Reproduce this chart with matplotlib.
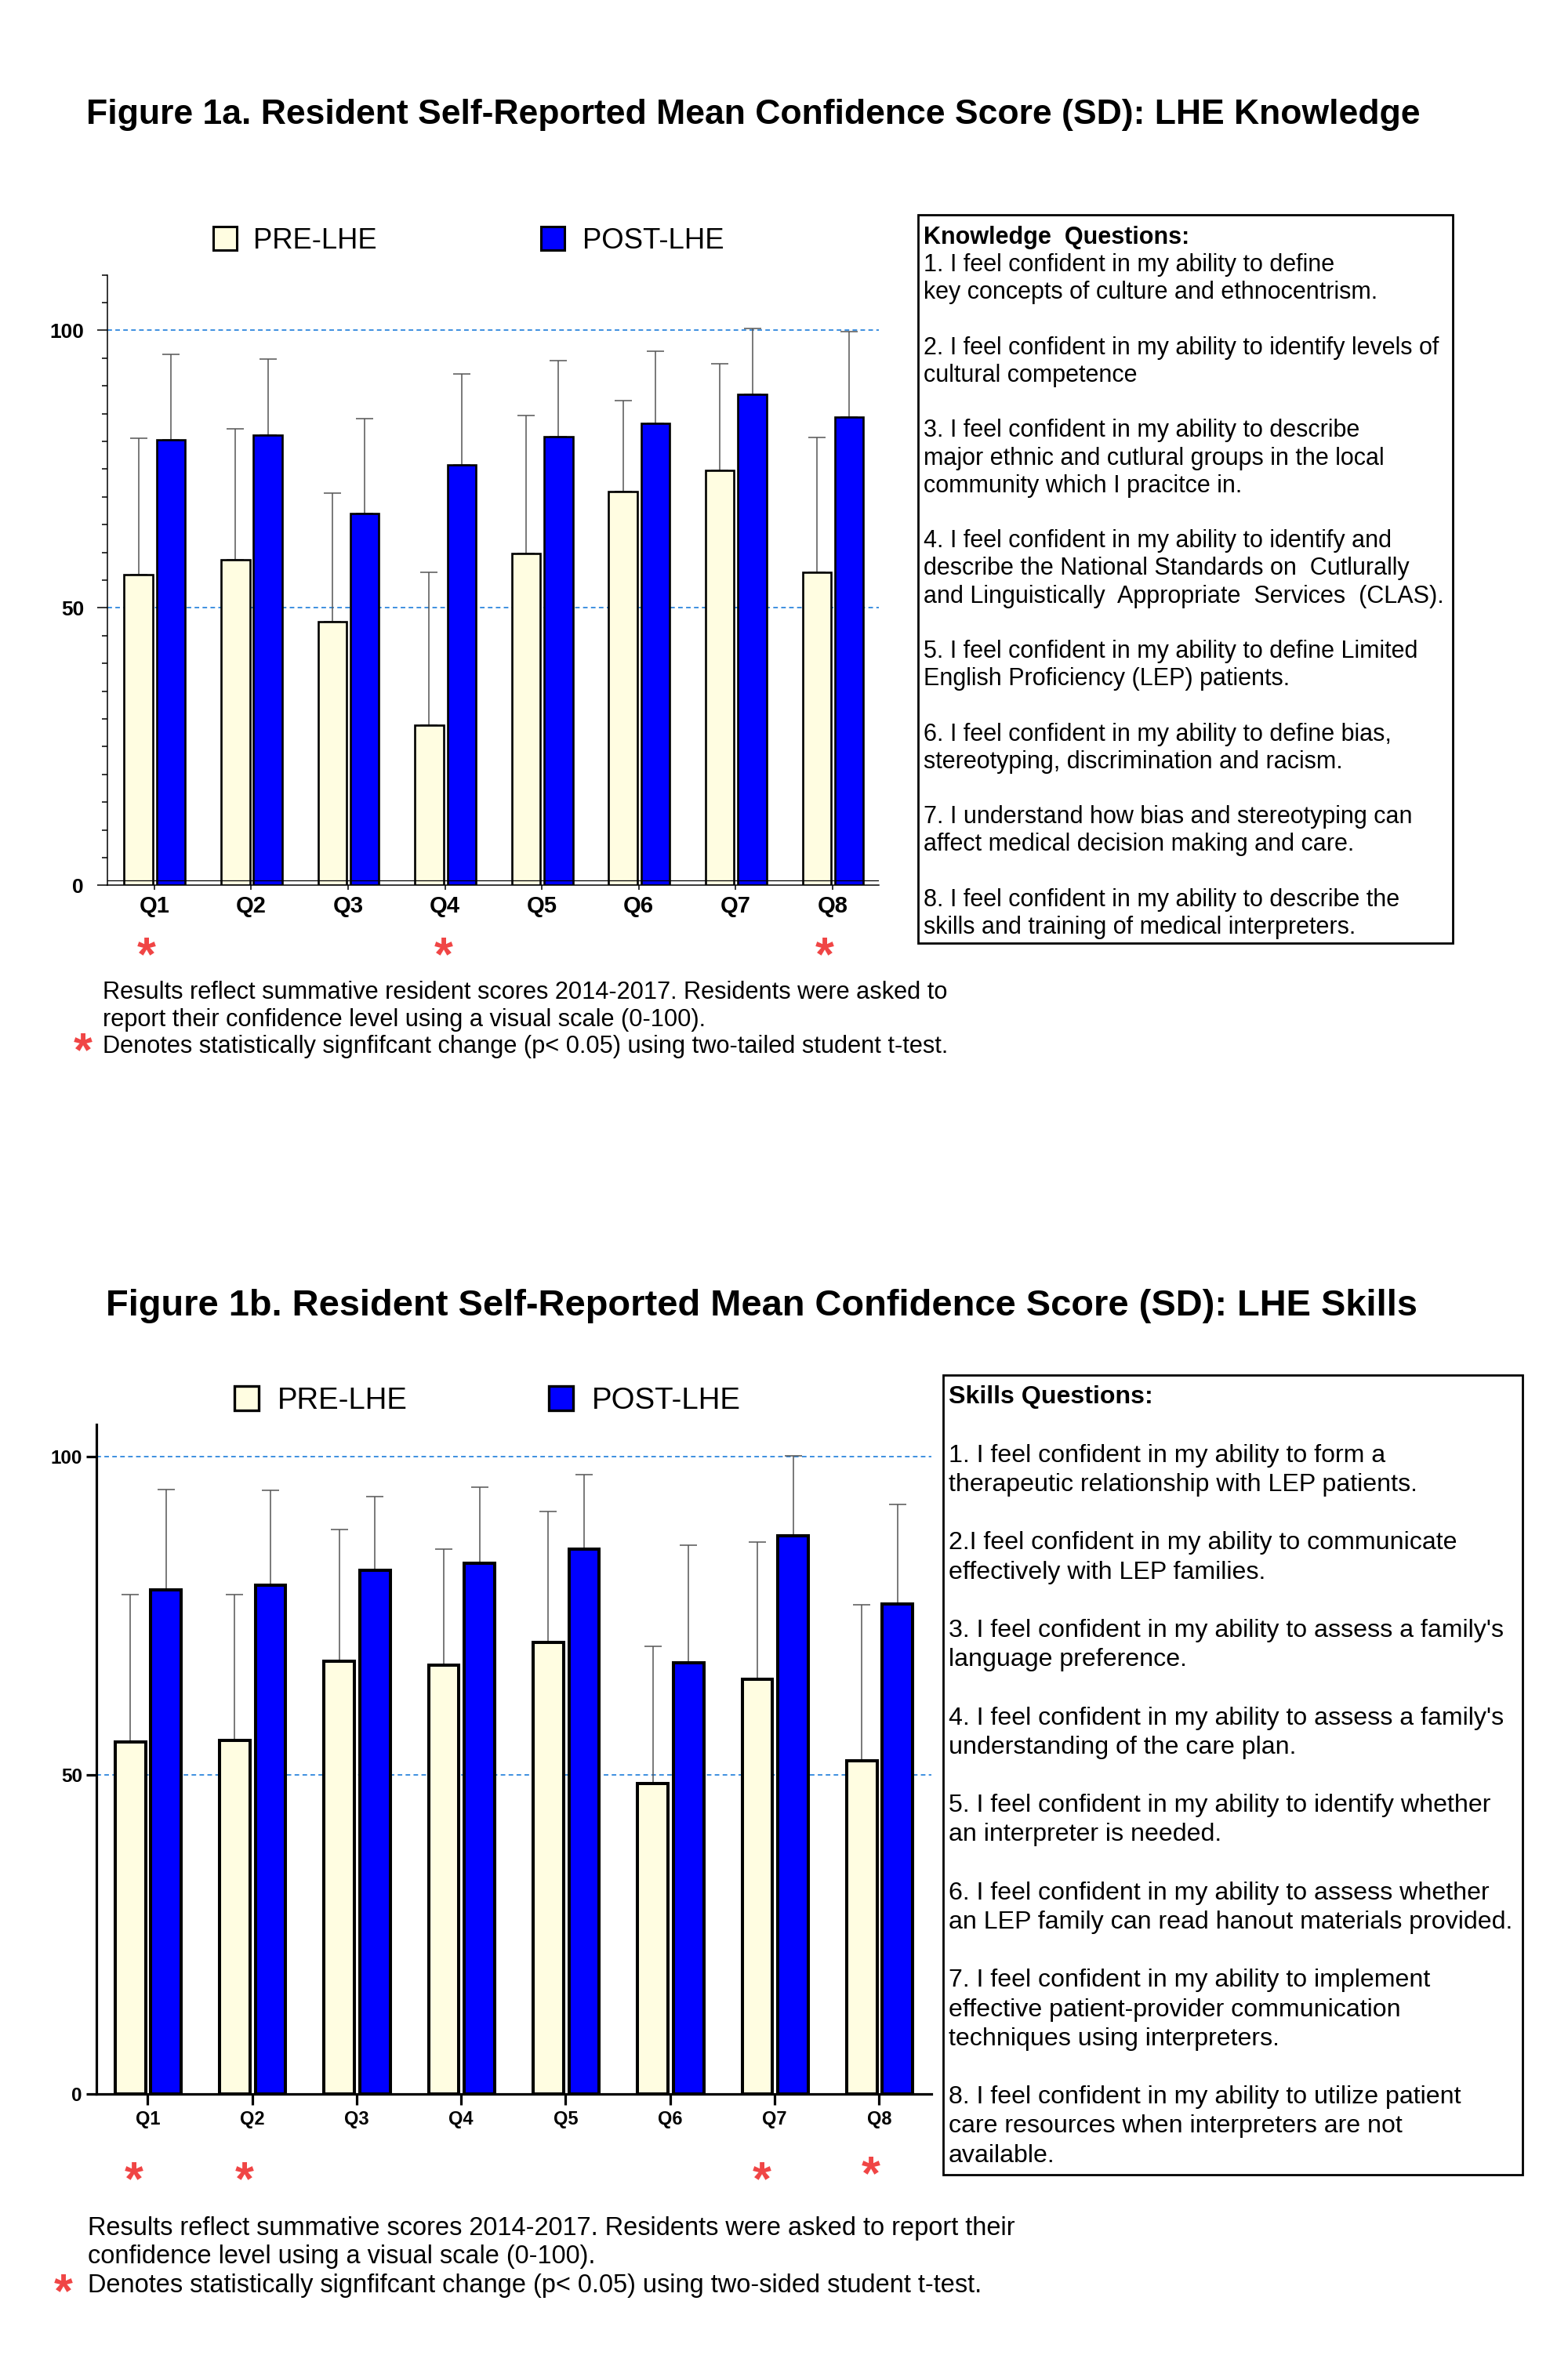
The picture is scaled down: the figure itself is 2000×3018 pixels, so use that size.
import matplotlib
matplotlib.use("Agg")
import matplotlib.pyplot as plt
import matplotlib.patches as mpatches
from matplotlib.ticker import MultipleLocator, FixedLocator
import numpy as np

plt.rcParams['font.family'] = ['Liberation Sans', 'DejaVu Sans']

# ---------------- DATA ----------------
questions = ["Q1", "Q2", "Q3", "Q4", "Q5", "Q6", "Q7", "Q8"]

know_pre_mean = [56.0, 58.7, 47.5, 28.9, 59.8, 70.9, 74.7, 56.4]
know_pre_sd = [24.6, 23.5, 23.2, 27.5, 24.8, 16.4, 19.3, 24.3]
know_post_mean = [80.3, 81.1, 67.0, 75.8, 80.9, 83.2, 88.5, 84.3]
know_post_sd = [15.3, 13.7, 17.1, 16.3, 13.6, 13.0, 11.8, 15.4]
know_signif = ["Q1", "Q4", "Q8"]

skill_pre_mean = [55.2, 55.5, 67.9, 67.3, 70.8, 48.7, 65.1, 52.3]
skill_pre_sd = [23.1, 22.8, 20.6, 18.2, 20.5, 21.5, 21.5, 24.4]
skill_post_mean = [79.1, 79.8, 82.1, 83.2, 85.5, 67.6, 87.5, 76.9]
skill_post_sd = [15.7, 14.9, 11.6, 12.0, 11.6, 18.5, 12.6, 15.6]
skill_signif = ["Q1", "Q2", "Q7", "Q8"]

series_labels = ["PRE-LHE", "POST-LHE"]

title_a = "Figure 1a. Resident Self-Reported Mean Confidence Score (SD): LHE Knowledge"
title_b = "Figure 1b. Resident Self-Reported Mean Confidence Score (SD): LHE Skills"

know_box_lines = [
    ("Knowledge  Questions:", True),
    ("1. I feel confident in my ability to define", False),
    ("key concepts of culture and ethnocentrism.", False),
    ("", False),
    ("2. I feel confident in my ability to identify levels of", False),
    ("cultural competence", False),
    ("", False),
    ("3. I feel confident in my ability to describe", False),
    ("major ethnic and cutlural groups in the local", False),
    ("community which I pracitce in.", False),
    ("", False),
    ("4. I feel confident in my ability to identify and", False),
    ("describe the National Standards on  Cutlurally", False),
    ("and Linguistically  Appropriate  Services  (CLAS).", False),
    ("", False),
    ("5. I feel confident in my ability to define Limited", False),
    ("English Proficiency (LEP) patients.", False),
    ("", False),
    ("6. I feel confident in my ability to define bias,", False),
    ("stereotyping, discrimination and racism.", False),
    ("", False),
    ("7. I understand how bias and stereotyping can", False),
    ("affect medical decision making and care.", False),
    ("", False),
    ("8. I feel confident in my ability to describe the", False),
    ("skills and training of medical interpreters.", False),
]

skill_box_lines = [
    ("Skills Questions:", True),
    ("", False),
    ("1. I feel confident in my ability to form a", False),
    ("therapeutic relationship with LEP patients.", False),
    ("", False),
    ("2.I feel confident in my ability to communicate", False),
    ("effectively with LEP families.", False),
    ("", False),
    ("3. I feel confident in my ability to assess a family's", False),
    ("language preference.", False),
    ("", False),
    ("4. I feel confident in my ability to assess a family's", False),
    ("understanding of the care plan.", False),
    ("", False),
    ("5. I feel confident in my ability to identify whether", False),
    ("an interpreter is needed.", False),
    ("", False),
    ("6. I feel confident in my ability to assess whether", False),
    ("an LEP family can read hanout materials provided.", False),
    ("", False),
    ("7. I feel confident in my ability to implement", False),
    ("effective patient-provider communication", False),
    ("techniques using interpreters.", False),
    ("", False),
    ("8. I feel confident in my ability to utilize patient", False),
    ("care resources when interpreters are not", False),
    ("available.", False),
]

note_a = ["Results reflect summative resident scores 2014-2017. Residents were asked to",
          "report their confidence level using a visual scale (0-100).",
          "Denotes statistically signfifcant change (p< 0.05) using two-tailed student t-test."]
note_b = ["Results reflect summative scores 2014-2017. Residents were asked to report their",
          "confidence level using a visual scale (0-100).",
          "Denotes statistically signfifcant change (p< 0.05) using two-sided student t-test."]

# ---------------- STYLE ----------------
W, H = 2000, 3018
PRE_COLOR = "#FFFDE1"
POST_COLOR = "#0000FF"
GRID_COLOR = "#3D8FE0"
ERR_COLOR = "#555555"
STAR_COLOR = "#F04545"

fig = plt.figure(figsize=(W / 100, H / 100), dpi=100)
renderer = fig.canvas.get_renderer()


def fx(x):
    return x / W


def fy(y):
    return 1 - y / H


def em(size):
    return size * 100 / 72.0


def text_line(x, yc, s, size, bold=False, color="black", ha="left"):
    # place text so that cap-height centre is at yc (pixels from top)
    yb = yc + 0.358 * em(size)
    return fig.text(fx(x), fy(yb), s, fontsize=size, fontweight="bold" if bold else "normal",
                    color=color, ha=ha, va="baseline")


def fit_size(s, size, target, bold=False):
    t = fig.text(0, 0, s, fontsize=size, fontweight="bold" if bold else "normal")
    bb = t.get_window_extent(renderer)
    t.remove()
    return size * target / bb.width


def star(x, yc, size=44):
    yb = yc + 0.575 * em(size)
    fig.text(fx(x), fy(yb), "*", fontsize=size, color=STAR_COLOR, ha="center", va="baseline",
             fontweight="bold")


def legend(y, pre_box_x, pre_text_x, pre_w, post_box_x, post_text_x, post_w, box, lw):
    for bx, tx, tw, col, lab in [(pre_box_x, pre_text_x, pre_w, PRE_COLOR, series_labels[0]),
                                 (post_box_x, post_text_x, post_w, POST_COLOR, series_labels[1])]:
        r = mpatches.Rectangle((fx(bx), fy(y + box / 2)), box / W, box / H, transform=fig.transFigure,
                               facecolor=col, edgecolor="black", lw=lw)
        fig.patches.append(r)
        text_line(tx, y, lab, fit_size(lab, 26, tw))


def draw_chart(rect, pre_m, pre_sd, post_m, post_sd, xlim, ylim, offs, width, edge_lw,
               spine_lw, ymajor_len, ypad, xlen, xpad, ylab_size, xlab_size, minor, baseline):
    ax = fig.add_axes(rect)
    x = np.arange(len(questions))
    ax.bar(x + offs[0], pre_m, width, color=PRE_COLOR, edgecolor="black", linewidth=edge_lw, zorder=2)
    ax.bar(x + offs[1], post_m, width, color=POST_COLOR, edgecolor="black", linewidth=edge_lw, zorder=2)
    ax.errorbar(x + offs[0], pre_m, yerr=[np.zeros(len(x)), pre_sd], fmt="none", ecolor=ERR_COLOR,
                elinewidth=1.1, capsize=8, capthick=1.1, zorder=1.5)
    ax.errorbar(x + offs[1], post_m, yerr=[np.zeros(len(x)), post_sd], fmt="none", ecolor=ERR_COLOR,
                elinewidth=1.1, capsize=8, capthick=1.1, zorder=1.5)
    for g in (50, 100):
        ax.axhline(g, color=GRID_COLOR, lw=1.4, ls=(0, (3, 2.2)), zorder=0.5)
    if baseline:
        ax.axhline(0.85, color="black", lw=0.9, zorder=3)
    ax.set_xlim(*xlim)
    ax.set_ylim(*ylim)
    ax.set_xticks(x)
    ax.set_xticklabels(questions)
    ax.yaxis.set_major_locator(FixedLocator([0, 50, 100]))
    if minor:
        ax.yaxis.set_minor_locator(MultipleLocator(5))
        ax.tick_params(axis="y", which="minor", length=5, width=spine_lw, direction="out")
    for s in ("top", "right"):
        ax.spines[s].set_visible(False)
    for s in ("left", "bottom"):
        ax.spines[s].set_linewidth(spine_lw)
    ax.tick_params(axis="y", which="major", length=ymajor_len, width=spine_lw, pad=ypad,
                   labelsize=ylab_size, direction="out")
    ax.tick_params(axis="x", length=xlen, width=spine_lw, pad=xpad, labelsize=xlab_size, direction="out")
    for lab in ax.get_xticklabels() + ax.get_yticklabels():
        lab.set_fontweight("bold")
    return ax


# ---------------- FIGURE 1a ----------------
text_line(110, 142, title_a, fit_size(title_a, 28, 1700, bold=True), bold=True)

legend(304, 272, 323, 158, 690, 743, 181, 30, 2.2)

draw_chart([fx(137.4), fy(1129.3), 983.8 / W, 778.8 / H],
           know_pre_mean, know_pre_sd, know_post_mean, know_post_sd,
           (-0.48, 7.48), (0, 110), (-0.162, 0.172), 0.295, 1.9,
           1.1, 9.4, 12.5, 4, 5.4, 19, 21, True, True)

for q, xs in zip(know_signif, [187, 566, 1052]):
    star(xs, 1202)

# text box
fig.patches.append(mpatches.Rectangle((fx(1171), fy(1203)), (1853 - 1171) / W, (1203 - 274) / H,
                                      transform=fig.transFigure, facecolor="none",
                                      edgecolor="black", lw=2.0))
for i, (s, b) in enumerate(know_box_lines):
    if s:
        text_line(1178, 300 + i * 35.2, s, 22.0, bold=b)

size_a = fit_size(note_a[0], 20, 1078)
for i, s in enumerate(note_a):
    text_line(131, 1263 + i * 34.5, s, size_a)
star(106, 1324)

# ---------------- FIGURE 1b ----------------
text_line(135, 1661, title_b, fit_size(title_b, 28, 1671, bold=True), bold=True)

legend(1783, 299, 354, 166, 700, 755, 190, 31, 2.4)

draw_chart([fx(123), fy(2671), (1188 - 123) / W, (2671 - 1817) / H],
           skill_pre_mean, skill_pre_sd, skill_post_mean, skill_post_sd,
           (-0.49, 7.5), (0, 105), (-0.166, 0.176), 0.29, 2.9,
           2.3, 9.1, 4, 10, 5, 17.5, 17, False, False)

for q, xs, ys in zip(skill_signif, [171, 312, 972, 1111], [2764, 2764, 2764, 2757]):
    star(xs, ys)

fig.patches.append(mpatches.Rectangle((fx(1203), fy(2774)), (1942 - 1203) / W, (2774 - 1754) / H,
                                      transform=fig.transFigure, facecolor="none",
                                      edgecolor="black", lw=2.0))
for i, (s, b) in enumerate(skill_box_lines):
    if s:
        text_line(1210, 1779 + i * 37.2, s, 23.1, bold=b)

size_b = fit_size(note_b[0], 21, 1182)
for i, s in enumerate(note_b):
    text_line(112, 2839 + i * 36.5, s, size_b)
star(81, 2907)

fig.savefig("out.png", dpi=100, facecolor="white")
